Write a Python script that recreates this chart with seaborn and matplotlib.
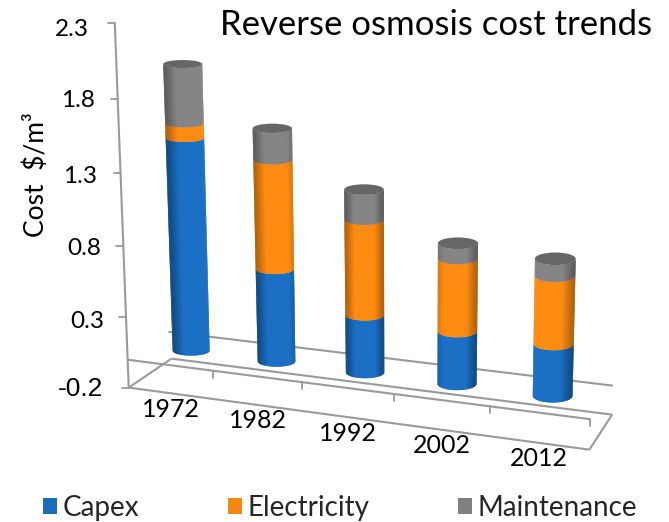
import numpy as np
import pandas as pd
import seaborn as sns
import matplotlib
matplotlib.use("Agg")
import matplotlib.pyplot as plt
from matplotlib.patches import Ellipse, Patch, Polygon

# Cost data, $/m3
years = ["1972", "1982", "1992", "2002", "2012"]
capex = [1.50, 0.65, 0.40, 0.36, 0.35]
electricity = [0.10, 0.75, 0.65, 0.49, 0.45]
maintenance = [0.40, 0.21, 0.20, 0.10, 0.11]
value_ticks = [-0.2, 0.3, 0.8, 1.3, 1.8, 2.3]
value_tick_labels = ["-0.2", "0.3", "0.8", "1.3", "1.8", "2.3"]

components = ["Capex", "Electricity", "Maintenance"]
shades = {
    "Capex": ("#0f4678", "#1b70c6"),
    "Electricity": ("#a85d0a", "#ff8c12"),
    "Maintenance": ("#565656", "#858585"),
}
legend_colors = ["#1b6cbf", "#f5860f", "#808080"]

df = pd.DataFrame({"Capex": capex, "Electricity": electricity, "Maintenance": maintenance}, index=years)

sns.set_theme(style="white")
plt.rcParams["font.family"] = ["Lato", "DejaVu Sans"]

fig = plt.figure(figsize=(6.69, 5.22), dpi=100)
ax = fig.add_axes([0, 0, 1, 1])
ax.set_xlim(0, 669)
ax.set_ylim(522, 0)
ax.axis("off")

# Camera for the 3D frame: (category, depth, value) -> canvas, solved from frame landmarks
frame_world = np.array([
    (0, 0, 0), (1, 0, 0), (2, 0, 0), (3, 0, 0), (4, 0, 0), (5, 0, 0),
    (0, 1, 0), (5, 1, 0),
    (0, 0, -0.2), (5, 0, -0.2), (0, 1, -0.2), (5, 1, -0.2),
    (0, 0, 0.3), (0, 0, 0.8), (0, 0, 1.3), (0, 0, 1.8), (0, 0, 2.3),
], dtype=float)
frame_canvas = np.array([
    (129, 360), (213, 371), (302, 384), (394, 395), (490, 406), (590, 418),
    (170, 332), (613, 386),
    (129, 387), (590, 449), (172, 358), (612, 415),
    (125, 317), (122, 246), (121, 173), (118, 99), (115, 23),
], dtype=float)


def solve_camera(world, canvas):
    rows, rhs = [], []
    for (c, d, v), (px, py) in zip(world, canvas):
        rows.append([c, d, v, 1, 0, 0, 0, 0, -px * c, -px * d, -px * v])
        rhs.append(px)
        rows.append([0, 0, 0, 0, c, d, v, 1, -py * c, -py * d, -py * v])
        rhs.append(py)
    p = np.linalg.lstsq(np.array(rows), np.array(rhs), rcond=None)[0]
    return np.append(p, 1.0).reshape(3, 4)


camera = solve_camera(frame_world, frame_canvas)


def project(c, d, v):
    q = camera @ np.array([c, d, v, 1.0])
    return q[0] / q[2], q[1] / q[2]


def frame_line(a, b, color="#9a9a9a", lw=1.5, z=1):
    pa, pb = project(*a), project(*b)
    ax.plot([pa[0], pb[0]], [pa[1], pb[1]], color=color, lw=lw, zorder=z, solid_capstyle="butt")


# Floor, back wall base and category axis
n = len(years)
frame_line((0, 0, -0.2), (n, 0, -0.2))
frame_line((0, 0, -0.2), (0, 1, -0.2))
frame_line((n, 0, -0.2), (n, 1, -0.2))
frame_line((0, 1, -0.2), (n, 1, -0.2))
frame_line((0, 0, 0), (n, 0, 0))
frame_line((0, 1, 0), (n, 1, 0))
frame_line((0, 0, -0.2), (0, 0, 2.3))

# Value axis ticks and labels
label_nudge = {"2.3": (-43, 6), "1.8": (-40, 2), "1.3": (-40, 3), "0.8": (-39, 2), "0.3": (-39, 4), "-0.2": (-48, 1)}
for tick, lab in zip(value_ticks, value_tick_labels):
    px, py = project(0, 0, tick)
    ax.plot([px - 7, px], [py, py], color="#9a9a9a", lw=1.3, zorder=1)
    dx, dy = label_nudge[lab]
    fam = ["Liberation Sans"] if lab.startswith("-") else ["Lato"]
    ax.text(px + dx, py + dy, lab, ha="center", va="center", fontsize=19 if lab.startswith("-") else 17.5,
            family=fam, color="black")

# Category ticks and labels
for i, year in enumerate(years):
    px, py = project(i + 1, 0, 0)
    ax.plot([px, px], [py, py + 7], color="#9a9a9a", lw=1.3, zorder=1)
    lx, ly = project(i + 0.5, 0, -0.2)
    ax.text(lx, ly + 16, year, ha="center", va="center", fontsize=18, color="black")
bx, by = project(0, 1, 0)
ax.plot([bx - 2, bx], [by, by], color="#9a9a9a", lw=1.3, zorder=1)


def ring_radii(i, height):
    rx = (18.5 + 0.35 * i) * (1 + height / 5300)
    ry = (4.9 + 0.45 * i) - 0.003 * height
    return rx, ry


def draw_segment(i, v0, v1, component, z):
    dark, base = shades[component]
    ramp = sns.blend_palette([dark, base, base], n_colors=256)
    _, base_y = project(i + 0.5, 0.5, 0)
    x0, y0 = project(i + 0.5, 0.5, v0)
    x1, y1 = project(i + 0.5, 0.5, v1)
    rx0, ry0 = ring_radii(i, base_y - y0)
    rx1, ry1 = ring_radii(i, base_y - y1)
    peak = 0.35 + 0.075 * i
    # Narrow shaded bands across the curved surface; each one reaches a little into
    # the next band so no seams appear, while the silhouette stays antialiased
    theta = np.linspace(np.pi, 0, 41)
    for j in range(len(theta) - 1):
        a = theta[j]
        b = theta[min(j + 2, len(theta) - 1)]
        arc = np.array([a, (a + b) / 2, b])
        lower = np.column_stack([x0 + rx0 * np.cos(arc), y0 + ry0 * np.sin(arc)])
        upper = np.column_stack([x1 + rx1 * np.cos(arc[::-1]), y1 + ry1 * np.sin(arc[::-1])])
        t = (1 - np.cos((theta[j] + theta[j + 1]) / 2)) / 2
        s = 1 - abs(t - peak) / max(peak, 1 - peak)
        ax.add_patch(Polygon(np.vstack([lower, upper]), closed=True,
                             facecolor=ramp[int(np.clip(s, 0, 1) * 255)], edgecolor="none", zorder=z))


# Stacked cylinders, lowest segment first so the next one overlaps its top
for i, year in enumerate(years):
    tops = np.cumsum(df.loc[year, components].to_numpy(dtype=float))
    bottoms = np.concatenate(([0.0], tops[:-1]))
    for k, comp in enumerate(components):
        draw_segment(i, bottoms[k], tops[k], comp, 3 + k)
    _, base_y = project(i + 0.5, 0.5, 0)
    xt, yt = project(i + 0.5, 0.5, tops[-1])
    rx, ry = ring_radii(i, base_y - yt)
    ax.add_patch(Ellipse((xt, yt), 2 * rx, 2 * ry, facecolor="#666666", edgecolor="none", zorder=7))

ax.text(652, 25, "Reverse osmosis cost trends", ha="right", va="center", fontsize=25, color="black")
ax.text(36, 175, "Cost  $/m³", rotation=90, ha="center", va="center", fontsize=19, color="black")

handles = [Patch(facecolor=c, edgecolor="none", label=l) for c, l in zip(legend_colors, components)]
ax.legend(handles=handles, loc="lower left", bbox_to_anchor=(35 / 669, -7 / 522), ncol=3, frameon=False,
          fontsize=20, handlelength=0.5, handleheight=0.5, handletextpad=0.2, columnspacing=3.2,
          borderaxespad=0.1, borderpad=0.2)

fig.savefig("out.png", dpi=100, facecolor="white")
